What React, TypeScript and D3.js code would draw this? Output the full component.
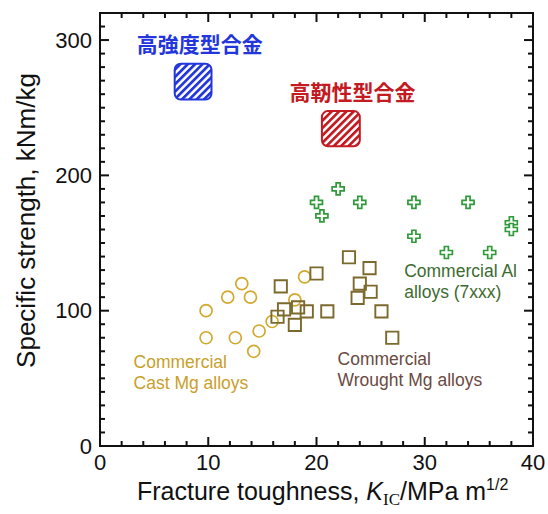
import React, { useRef, useEffect } from 'react';
import * as d3 from 'd3';

// Commercial cast Mg alloys (circles)
const castX = [9.8, 9.8, 11.8, 12.5, 13.1, 13.9, 14.2, 14.7, 15.9, 18.0, 18.9];
const castY = [100, 80, 110, 80, 120, 110, 70, 85, 92, 108, 125];

// Commercial wrought Mg alloys (squares)
const wroughtX = [16.7, 17.0, 18.3, 18.0, 16.4, 19.1, 20.0, 21.0, 23.0, 24.9, 24.0, 25.0, 23.8, 26.0, 27.0];
const wroughtY = [118, 101, 102.5, 89.5, 95.5, 99.5, 127.5, 99.5, 139.5, 131.5, 120, 114, 109.5, 99.5, 80];

// Commercial Al alloys 7xxx (crosses)
const alX = [20.0, 20.5, 22.0, 24.0, 29.0, 29.0, 34.0, 32.0, 36.0, 38.0, 38.0];
const alY = [180, 170, 190, 180, 180, 155, 180, 143, 143, 165, 160];

// target regions (hatched boxes)
const regionNames = ['high-strength', 'high-toughness'];
const regionX0 = [6.9, 20.5];
const regionX1 = [10.3, 24.0];
const regionY0 = [256, 221.5];
const regionY1 = [282.5, 247.5];

const xTickLabels = [0, 10, 20, 30, 40];
const yTickLabels = [0, 100, 200, 300];

const SANS = 'Liberation Sans, Arial, Helvetica, sans-serif';
const CJK = '"Noto Sans CJK JP", "Noto Sans CJK SC", sans-serif';

const Chart = () => {
  const svgRef = useRef(null);

  useEffect(() => {
    const width = 548;
    const height = 514;
    const margin = { top: 13, right: 15, bottom: 68, left: 100 };

    const svg = d3.select(svgRef.current)
      .attr('width', width)
      .attr('height', height);
    svg.selectAll('*').remove();

    const xScale = d3.scaleLinear()
      .domain([0, 40])
      .range([margin.left, width - margin.right]);

    const yScale = d3.scaleLinear()
      .domain([0, 320])
      .range([height - margin.bottom, margin.top]);

    const [x0, x1] = xScale.range();
    const [y0, y1] = yScale.range();

    // hatch patterns
    const defs = svg.append('defs');
    const hatch = (id, color) => {
      const p = defs.append('pattern')
        .attr('id', id)
        .attr('patternUnits', 'userSpaceOnUse')
        .attr('width', 5.2)
        .attr('height', 5.2)
        .attr('patternTransform', 'rotate(45)');
      p.append('rect').attr('width', 5.2).attr('height', 5.2).attr('fill', 'white');
      p.append('rect').attr('width', 2.7).attr('height', 5.2).attr('fill', color);
    };
    hatch('hatch-blue', '#2336dc');
    hatch('hatch-red', '#c41a22');
    const regionColors = ['#2336dc', '#c41a22'];
    const regionFills = ['url(#hatch-blue)', 'url(#hatch-red)'];

    svg.selectAll('.region')
      .data(regionNames)
      .enter().append('rect')
      .attr('class', 'region')
      .attr('x', (d, i) => xScale(regionX0[i]))
      .attr('y', (d, i) => yScale(regionY1[i]))
      .attr('width', (d, i) => xScale(regionX1[i]) - xScale(regionX0[i]))
      .attr('height', (d, i) => yScale(regionY0[i]) - yScale(regionY1[i]))
      .attr('rx', 6)
      .attr('fill', (d, i) => regionFills[i])
      .attr('stroke', (d, i) => regionColors[i])
      .attr('stroke-width', 2);

    // region labels
    svg.append('text')
      .attr('x', xScale(3.4))
      .attr('y', yScale(296) + 7)
      .attr('font-family', CJK)
      .attr('font-weight', 'bold')
      .attr('font-size', 21)
      .attr('fill', '#2336dc')
      .text('高強度型合金');

    svg.append('text')
      .attr('x', xScale(17.5))
      .attr('y', yScale(261) + 7)
      .attr('font-family', CJK)
      .attr('font-weight', 'bold')
      .attr('font-size', 21)
      .attr('fill', '#c41a22')
      .text('高靭性型合金');

    // markers
    svg.selectAll('.cast')
      .data(castX)
      .enter().append('circle')
      .attr('class', 'cast')
      .attr('cx', d => xScale(d))
      .attr('cy', (d, i) => yScale(castY[i]))
      .attr('r', 6)
      .attr('fill', 'none')
      .attr('stroke', '#d2a92e')
      .attr('stroke-width', 1.7);

    const square = d3.symbol(d3.symbolSquare, 150);
    svg.selectAll('.wrought')
      .data(wroughtX)
      .enter().append('path')
      .attr('class', 'wrought')
      .attr('d', square)
      .attr('transform', (d, i) => `translate(${xScale(d)}, ${yScale(wroughtY[i])})`)
      .attr('fill', 'none')
      .attr('stroke', '#7c6a2c')
      .attr('stroke-width', 1.9);

    const cross = d3.symbol(d3.symbolCross, 80);
    svg.selectAll('.al')
      .data(alX)
      .enter().append('path')
      .attr('class', 'al')
      .attr('d', cross)
      .attr('transform', (d, i) => `translate(${xScale(d)}, ${yScale(alY[i])})`)
      .attr('fill', 'white')
      .attr('stroke', '#2e9a38')
      .attr('stroke-width', 1.7);

    // series labels
    const label = (lines, x, y, color) => {
      const t = svg.append('text')
        .attr('font-family', SANS)
        .attr('font-size', 17.5)
        .attr('fill', color);
      lines.forEach((s, i) => {
        t.append('tspan')
          .attr('x', xScale(x))
          .attr('y', yScale(y) + i * 21)
          .text(s);
      });
    };
    label(['Commercial Al', 'alloys (7xxx)'], 28.1, 125, '#3c6b30');
    label(['Commercial', 'Cast Mg alloys'], 3.1, 58, '#c9a02a');
    label(['Commercial', 'Wrought Mg alloys'], 21.95, 60, '#6a4a42');

    // frame
    svg.append('rect')
      .attr('x', x0)
      .attr('y', y1)
      .attr('width', x1 - x0)
      .attr('height', y0 - y1)
      .attr('fill', 'none')
      .attr('stroke', '#111')
      .attr('stroke-width', 2);

    // inward ticks on all four sides
    const xMinor = d3.range(0, 41, 2);
    const yMinor = d3.range(0, 321, 10);
    const tickLen = (major) => (major ? 9 : 5);

    [y0, y1].forEach((yy, side) => {
      svg.append('g').selectAll('line')
        .data(xMinor)
        .enter().append('line')
        .attr('x1', d => xScale(d))
        .attr('x2', d => xScale(d))
        .attr('y1', yy)
        .attr('y2', d => yy + (side === 0 ? -1 : 1) * tickLen(d % 10 === 0))
        .attr('stroke', '#111')
        .attr('stroke-width', 2);
    });

    [x0, x1].forEach((xx, side) => {
      svg.append('g').selectAll('line')
        .data(yMinor)
        .enter().append('line')
        .attr('y1', d => yScale(d))
        .attr('y2', d => yScale(d))
        .attr('x1', xx)
        .attr('x2', d => xx + (side === 0 ? 1 : -1) * tickLen(d % 100 === 0))
        .attr('stroke', '#111')
        .attr('stroke-width', 2);
    });

    // tick labels
    svg.append('g').selectAll('text')
      .data(xTickLabels)
      .enter().append('text')
      .attr('x', d => xScale(d))
      .attr('y', y0 + 24)
      .attr('text-anchor', 'middle')
      .attr('font-family', SANS)
      .attr('font-size', 22)
      .attr('fill', '#111')
      .text(d => d);

    svg.append('g').selectAll('text')
      .data(yTickLabels)
      .enter().append('text')
      .attr('x', x0 - 8)
      .attr('y', d => yScale(d))
      .attr('dy', '0.35em')
      .attr('text-anchor', 'end')
      .attr('font-family', SANS)
      .attr('font-size', 22)
      .attr('fill', '#111')
      .text(d => d);

    // axis titles
    const xt = svg.append('text')
      .attr('x', 137)
      .attr('y', 500)
      .attr('font-family', SANS)
      .attr('font-size', 25)
      .attr('fill', '#111');
    xt.append('tspan').text('Fracture toughness, ');
    xt.append('tspan').attr('font-style', 'italic').text('K');
    xt.append('tspan')
      .attr('font-family', 'Liberation Serif, Times New Roman, serif')
      .attr('font-size', 17)
      .attr('dy', 5)
      .text('IC');
    xt.append('tspan').attr('dy', -5).text('/MPa m');
    xt.append('tspan').attr('font-size', 16).attr('dy', -10).text('1/2');

    svg.append('text')
      .attr('transform', `translate(35, ${(y0 + y1) / 2 - 9}) rotate(-90)`)
      .attr('text-anchor', 'middle')
      .attr('font-family', SANS)
      .attr('font-size', 26)
      .attr('fill', '#111')
      .text('Specific strength, kNm/kg');
  }, []);

  return <svg ref={svgRef} style={{ position: 'absolute', left: 0, top: 0 }}></svg>;
};

export default function App() {
  return <Chart />;
}
